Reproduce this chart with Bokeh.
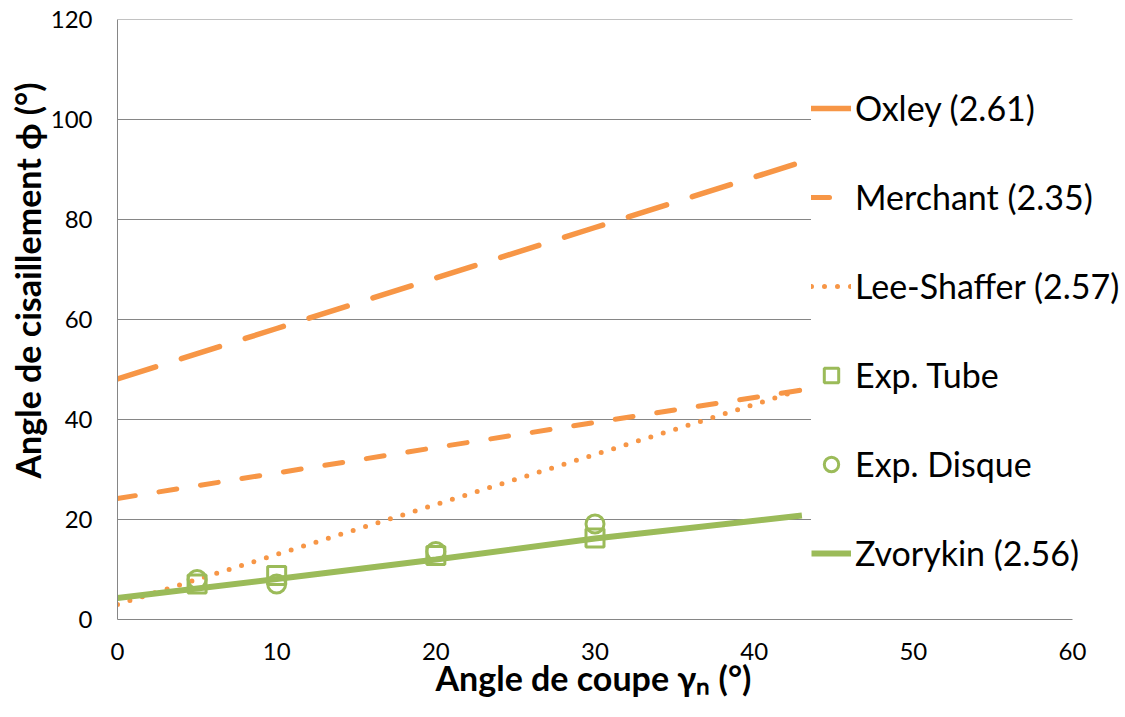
from bokeh.plotting import figure
from bokeh.models import Range1d, Legend, LegendItem, FixedTicker, Title
from bokeh.embed import file_html
from bokeh.resources import INLINE

# ---- data ----
gamma_model = [0, 10, 20, 30, 43]
oxley = [48.1, 58.2, 68.3, 78.4, 91.5]
merchant = [24.2, 29.3, 34.4, 39.4, 45.9]
lee_shaffer = [3.0, 13.0, 23.0, 33.0, 46.0]
zvorykin = [4.3, 8.1, 12.0, 16.2, 20.8]

gamma_exp = [5, 10, 20, 30]
exp_tube = [7.1, 8.8, 12.8, 16.3]
exp_disque = [8.0, 7.1, 13.6, 19.1]

x_ticks = [0, 10, 20, 30, 40, 50, 60]
y_ticks = [0, 20, 40, 60, 80, 100, 120]

labels = ["Oxley (2.61)", "Merchant (2.35)", "Lee-Shaffer (2.57)",
          "Exp. Tube", "Exp. Disque", "Zvorykin (2.56)"]
x_title = "Angle de coupe γₙ (°)"
y_title = "Angle de cisaillement ϕ (°)"

ORANGE = "#F79646"
GREEN = "#9BBB59"
GRID = "#868686"
FONT = "Lato"

X_MIN, X_MAX = x_ticks[0], x_ticks[-1]
# frame extends past the last tick so the legend can sit over it
x_view_end = X_MAX * 1008 / 955

p = figure(width=1125, height=717, x_range=Range1d(X_MIN, x_view_end),
           y_range=Range1d(y_ticks[0], y_ticks[-1]),
           output_backend="svg", toolbar_location=None,
           min_border_left=117, min_border_right=0, min_border_top=19, min_border_bottom=98)
p.outline_line_color = None
p.background_fill_color = "white"

# horizontal gridlines limited to the axis extent
p.segment(x0=[X_MIN] * (len(y_ticks) - 1), x1=[X_MAX] * (len(y_ticks) - 1),
          y0=y_ticks[1:], y1=y_ticks[1:], line_color=GRID, line_width=1)

r_ox = p.line(gamma_model, oxley, line_color=ORANGE, line_width=5.5,
              line_dash="40 27", line_cap="round")
r_me = p.line(gamma_model, merchant, line_color=ORANGE, line_width=5,
              line_dash="18 24", line_cap="round")
r_ls = p.line(gamma_model, lee_shaffer, line_color=ORANGE, line_width=5,
              line_dash="0 13", line_cap="round")
r_tu = p.scatter(gamma_exp, exp_tube, marker="square", size=18, line_width=3,
                 line_color=GREEN, fill_color=None)
r_di = p.scatter(gamma_exp, exp_disque, marker="circle", size=18, line_width=3,
                 line_color=GREEN, fill_color=None)
r_zv = p.line(gamma_model, zvorykin, line_color=GREEN, line_width=6)

# axes
for ax in (p.xaxis[0], p.yaxis[0]):
    ax.axis_line_color = GRID
    ax.axis_line_width = 1
    ax.major_tick_line_color = None
    ax.minor_tick_line_color = None
    ax.major_tick_out = 0
    ax.major_tick_in = 0
    ax.minor_tick_out = 0
    ax.minor_tick_in = 0
    ax.major_label_text_font = FONT
    ax.major_label_text_font_size = "24px"
    ax.major_label_text_color = "black"

p.xaxis.bounds = (X_MIN, X_MAX)
p.xaxis.ticker = FixedTicker(ticks=x_ticks)
p.yaxis.ticker = FixedTicker(ticks=y_ticks)
p.xaxis.major_label_standoff = 23
p.yaxis.major_label_standoff = 25

p.xgrid.grid_line_color = None
p.ygrid.grid_line_color = None

# axis titles as side titles so they can be offset like the reference
tx = Title(text=x_title, align="left", offset=318, standoff=-12,
           text_font=FONT, text_font_size="34px", text_font_style="bold",
           text_color="black", vertical_align="top")
ty = Title(text=y_title, align="left", offset=141, standoff=0,
           text_font=FONT, text_font_size="34px", text_font_style="bold",
           text_color="black")
p.add_layout(tx, "below")
p.add_layout(ty, "left")

legend = Legend(items=[
    LegendItem(label=labels[0], renderers=[r_ox]),
    LegendItem(label=labels[1], renderers=[r_me]),
    LegendItem(label=labels[2], renderers=[r_ls]),
    LegendItem(label=labels[3], renderers=[r_tu]),
    LegendItem(label=labels[4], renderers=[r_di]),
    LegendItem(label=labels[5], renderers=[r_zv]),
], location=(694, 46))
legend.background_fill_color = "white"
legend.background_fill_alpha = 1
legend.border_line_color = None
legend.padding = 5
legend.margin = 0
legend.spacing = 48
legend.glyph_width = 40
legend.glyph_height = 36
legend.label_height = 36
legend.label_standoff = 4
legend.label_text_font = FONT
legend.label_text_font_size = "34px"
legend.label_text_color = "black"
legend.label_text_baseline = "middle"
p.add_layout(legend, "center")

open("out.html", "w").write(file_html(p, INLINE))
